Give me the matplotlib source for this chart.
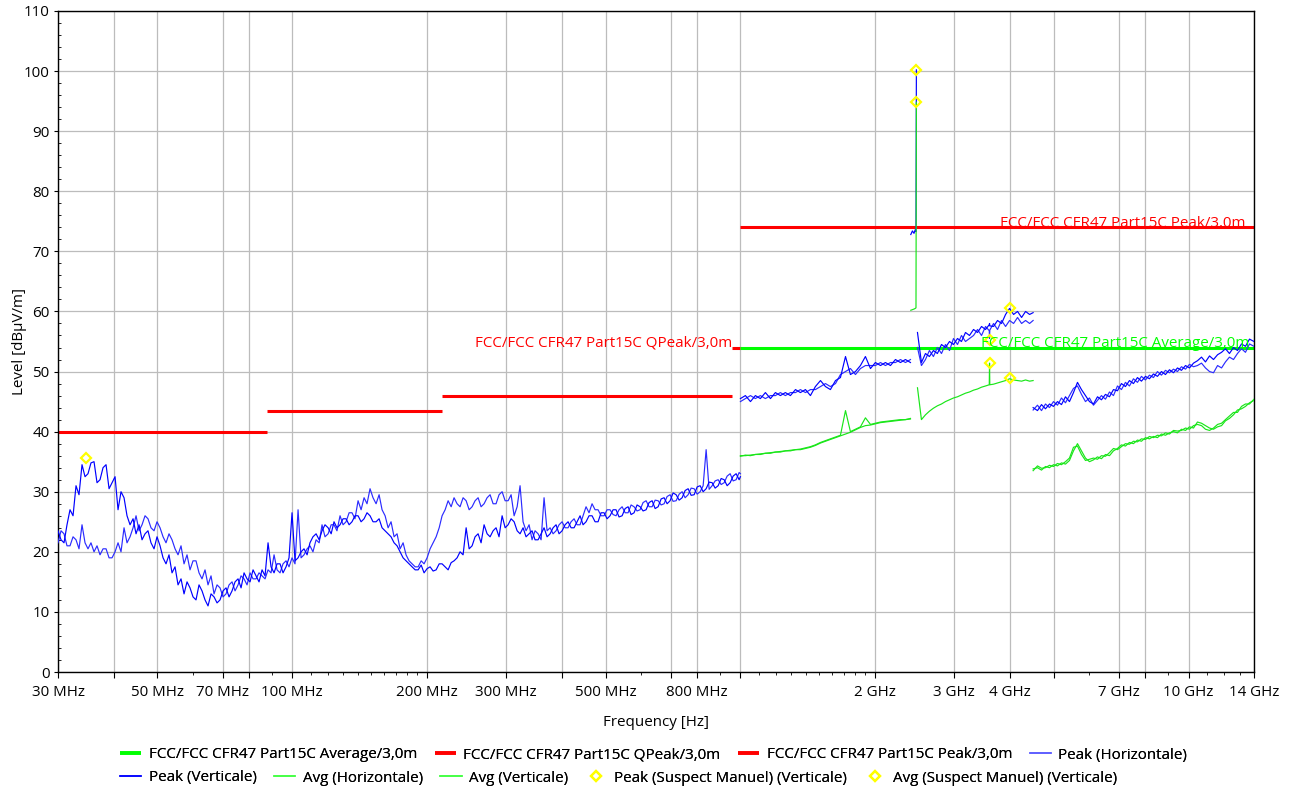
import matplotlib
matplotlib.use("Agg")
import matplotlib.pyplot as plt
from matplotlib.lines import Line2D
from matplotlib.ticker import FixedLocator, FixedFormatter, MultipleLocator

plt.rcParams["font.family"] = ["Open Sans", "DejaVu Sans"]
plt.rcParams["font.size"] = 10.9

# ---- sweep 30 MHz - 1 GHz (frequencies in MHz, levels in dBuV/m)
freq_a = [30.0, 30.47, 30.94, 31.42, 31.91, 32.41, 32.91, 33.42, 33.94, 34.47,
          35.0, 35.54, 36.1, 36.66, 37.23, 37.81, 38.4, 39.0, 39.6, 40.22,
          40.84, 41.47, 42.12, 42.77, 43.44, 44.12, 44.8, 45.5, 46.2, 46.92,
          47.64, 48.38, 49.14, 49.9, 50.68, 51.47, 52.26, 53.07, 53.9, 54.74,
          55.59, 56.45, 57.33, 58.22, 59.12, 60.04, 60.97, 61.92, 62.88, 63.86,
          64.85, 65.86, 66.89, 67.93, 68.98, 70.05, 71.14, 72.25, 73.37, 74.51,
          75.67, 76.85, 78.04, 79.25, 80.48, 81.73, 83.0, 84.29, 85.6, 86.93,
          88.28, 89.65, 91.05, 92.46, 93.89, 95.35, 96.83, 98.33, 99.86, 101.4,
          103.0, 104.6, 106.2, 107.9, 109.5, 111.2, 113.0, 114.8, 116.5, 118.3,
          120.2, 122.1, 123.9, 125.8, 127.8, 129.8, 131.8, 133.9, 135.9, 138.0,
          140.2, 142.4, 144.6, 146.8, 149.1, 151.4, 153.8, 156.2, 158.6, 161.1,
          163.6, 166.1, 168.7, 171.3, 174.0, 176.7, 179.4, 182.2, 185.1, 188.0,
          190.9, 193.9, 196.8, 199.9, 203.0, 206.2, 209.4, 212.7, 215.9, 219.3,
          222.7, 226.2, 229.6, 233.2, 236.8, 240.5, 244.3, 248.1, 251.9, 255.8,
          259.8, 263.8, 267.9, 272.1, 276.3, 280.6, 284.9, 289.3, 293.9, 298.5,
          303.1, 307.8, 312.6, 317.5, 322.3, 327.3, 332.4, 337.6, 342.8, 348.1,
          353.6, 359.1, 364.6, 370.3, 376.1, 381.9, 387.8, 393.8, 400.0, 406.2,
          412.5, 418.9, 425.4, 432.0, 438.7, 445.5, 452.4, 459.4, 466.6, 473.9,
          481.2, 488.7, 496.3, 504.0, 511.8, 519.8, 527.8, 536.0, 544.5, 553.0,
          561.5, 570.2, 579.0, 588.0, 597.2, 606.5, 615.9, 625.5, 635.3, 645.2,
          655.2, 665.4, 675.6, 686.1, 696.8, 707.6, 718.7, 729.9, 741.2, 752.7,
          764.4, 776.3, 788.4, 800.7, 813.1, 825.7, 838.5, 851.5, 864.8, 878.2,
          891.9, 905.8, 919.8, 934.1, 948.6, 963.3, 978.2, 993.4, 1000.0]
peak_v_a = [23.5, 22.0, 21.5, 24.5, 27.0, 26.0, 31.0, 29.5, 34.5, 32.5,
            33.0, 34.8, 35.0, 31.5, 32.0, 34.0, 34.5, 30.5, 31.5, 32.5,
            27.0, 30.0, 29.0, 26.0, 24.5, 25.5, 23.0, 24.5, 22.0, 23.0,
            23.5, 21.5, 20.5, 22.5, 21.0, 19.0, 18.0, 19.5, 16.5, 17.5,
            14.5, 15.5, 13.0, 15.0, 14.0, 12.5, 12.0, 14.5, 13.5, 12.0,
            11.0, 13.0, 12.5, 11.5, 12.0, 13.5, 14.0, 12.5, 13.5, 15.0,
            15.5, 14.0, 16.5, 15.5, 15.0, 17.0, 16.0, 15.0, 17.0, 16.0,
            21.5, 17.5, 16.5, 18.0, 18.0, 16.5, 17.5, 19.0, 26.5, 18.5,
            19.0, 20.0, 20.5, 19.5, 21.5, 22.5, 23.0, 22.0, 23.5, 24.5,
            24.0, 23.0, 25.0, 24.0, 24.5, 25.5, 25.5, 24.5, 25.0, 26.0,
            26.0, 25.0, 25.5, 26.5, 26.0, 25.0, 25.0, 25.5, 24.0, 23.5,
            23.0, 22.5, 21.5, 21.0, 20.0, 19.0, 18.5, 18.0, 17.5, 17.0,
            17.0, 17.8, 16.5, 17.2, 17.5, 16.8, 17.0, 18.0, 18.0, 17.5,
            17.0, 18.2, 18.5, 19.0, 20.0, 19.5, 24.0, 20.5, 21.0, 22.5,
            23.0, 21.5, 24.5, 23.0, 22.5, 23.5, 24.0, 22.5, 26.0, 24.0,
            24.5, 25.5, 25.0, 23.5, 23.0, 24.0, 22.5, 23.0, 23.5, 22.0,
            22.0, 23.0, 24.0, 22.5, 23.0, 24.0, 24.5, 23.0, 23.5, 24.5,
            25.0, 24.0, 24.0, 25.0, 26.0, 24.5, 25.0, 26.0, 26.0, 25.0,
            25.0, 26.5, 26.5, 25.5, 26.0, 27.0, 27.0, 25.8, 26.0, 27.2,
            27.5, 26.2, 26.5, 27.8, 27.5, 26.8, 27.0, 28.2, 28.5, 27.2,
            27.5, 28.8, 29.0, 28.0, 28.5, 29.8, 29.5, 28.6, 29.0, 30.2,
            30.5, 29.4, 29.5, 30.8, 31.0, 30.0, 30.5, 31.6, 31.5, 30.6,
            31.0, 32.2, 32.0, 31.0, 31.5, 32.6, 33.0, 32.0, 32.5]
peak_h_a = [21.5, 23.5, 23.0, 21.0, 21.0, 22.5, 22.0, 20.5, 24.5, 21.5,
            20.5, 21.5, 20.0, 21.0, 19.5, 20.5, 20.5, 19.0, 19.0, 20.0,
            21.5, 20.0, 24.0, 21.5, 22.5, 24.0, 26.0, 23.5, 24.5, 26.0,
            25.5, 24.0, 23.5, 25.0, 24.0, 22.5, 21.5, 23.0, 22.0, 20.5,
            19.5, 21.0, 18.0, 19.5, 17.0, 18.5, 18.5, 16.5, 15.5, 17.0,
            14.5, 16.0, 13.0, 14.5, 14.0, 12.5, 13.0, 14.5, 15.0, 13.5,
            14.5, 16.0, 15.5, 14.5, 16.5, 15.5, 15.5, 16.5, 16.0, 15.5,
            17.0, 16.5, 19.5, 17.0, 16.5, 18.0, 18.5, 17.5, 19.0, 18.0,
            27.0, 19.0, 19.5, 20.5, 21.0, 20.0, 22.0, 21.5, 24.5, 22.5,
            23.0, 24.5, 24.5, 23.5, 26.0, 24.5, 25.0, 26.5, 26.5, 25.5,
            28.5, 27.0, 29.0, 28.0, 30.5, 29.0, 28.0, 29.5, 27.0, 26.0,
            24.0, 25.0, 22.5, 23.0, 20.5, 21.5, 19.5, 18.5, 18.0, 17.5,
            17.5, 18.5, 18.0, 19.0, 20.5, 21.5, 22.5, 24.0, 26.0, 27.0,
            28.5, 27.5, 29.0, 28.0, 27.5, 29.0, 28.5, 27.0, 27.5, 28.5,
            29.0, 27.5, 28.0, 29.0, 29.5, 28.0, 28.0, 29.5, 30.0, 28.5,
            28.5, 29.5, 26.0, 27.5, 31.0, 25.0, 23.5, 24.5, 22.0, 23.5,
            23.0, 22.0, 29.0, 23.5, 24.0, 23.0, 23.5, 24.5, 25.0, 24.0,
            24.0, 25.0, 25.5, 24.5, 24.5, 26.0, 27.5, 26.5, 28.0, 27.0,
            27.0, 26.0, 26.0, 27.0, 27.0, 26.2, 26.0, 27.0, 27.5, 26.5,
            26.5, 27.8, 27.5, 26.8, 27.0, 28.2, 28.5, 27.5, 27.5, 28.6,
            28.5, 27.8, 28.0, 29.2, 29.5, 28.4, 28.5, 29.6, 30.0, 29.0,
            29.5, 30.6, 30.5, 29.6, 30.0, 31.0, 37.0, 30.4, 31.0, 31.8,
            32.0, 31.2, 31.5, 32.6, 33.0, 31.8, 32.0, 33.2, 33.0]

# ---- sweep 1 GHz - 2.4 GHz
freq_b = [1000, 1026, 1053, 1080, 1108, 1137, 1167, 1197, 1228, 1260,
          1293, 1327, 1361, 1397, 1433, 1470, 1509, 1548, 1588, 1630,
          1672, 1716, 1760, 1806, 1853, 1901, 1951, 2001, 2054, 2107,
          2162, 2218, 2276, 2335, 2396]
peak_v_b = [45.5, 46.0, 45.0, 46.0, 45.5, 46.5, 45.5, 46.5, 46.0, 46.5,
            46.0, 47.0, 46.5, 47.0, 46.0, 47.5, 48.5, 47.5, 47.0, 48.5,
            49.0, 52.5, 49.5, 50.0, 51.0, 52.5, 50.5, 51.5, 51.0, 51.5,
            51.0, 52.0, 51.5, 52.0, 51.5]
peak_h_b = [45.0, 45.5, 46.0, 45.5, 46.0, 45.5, 46.0, 46.0, 46.5, 46.0,
            46.5, 46.5, 47.0, 46.5, 47.0, 47.0, 47.5, 48.0, 47.5, 48.0,
            49.5, 50.0, 50.5, 49.5, 50.5, 51.0, 51.0, 51.0, 51.5, 51.0,
            51.5, 51.5, 52.0, 51.5, 52.0]
avg_v_b = [36.0, 36.0, 36.1, 36.2, 36.3, 36.4, 36.5, 36.6, 36.7, 36.8,
           36.9, 37.0, 37.1, 37.3, 37.5, 37.8, 38.2, 38.5, 38.8, 39.1,
           39.4, 43.5, 40.0, 40.4, 40.8, 42.3, 41.2, 41.4, 41.6, 41.7,
           41.8, 41.9, 42.0, 42.0, 42.2]
avg_h_b = [35.9, 36.1, 36.0, 36.2, 36.2, 36.4, 36.4, 36.6, 36.6, 36.8,
           36.8, 37.0, 37.0, 37.2, 37.4, 37.7, 38.1, 38.4, 38.7, 39.0,
           39.3, 39.6, 39.9, 40.3, 40.7, 41.0, 41.1, 41.3, 41.5, 41.6,
           41.7, 41.8, 41.9, 42.0, 42.1]

# ---- 2.4 GHz band
freq_c = [2400, 2420, 2440, 2455, 2465, 2470]
peak_v_c = [72.8, 73.4, 73.0, 73.6, 73.3, 100.2]
avg_v_c = [60.2, 60.3, 60.4, 60.5, 60.6, 94.8]

# ---- 2.4835 GHz - 4.5 GHz
freq_d = [2484, 2535, 2588, 2641, 2696, 2752, 2810, 2868, 2928, 2989,
          3051, 3114, 3179, 3245, 3313, 3382, 3452, 3524, 3592, 3597,
          3602, 3672, 3748, 3826, 3906, 3987, 4070, 4154, 4241, 4329,
          4419, 4500]
peak_v_d = [56.5, 51.5, 53.0, 52.5, 53.5, 53.0, 54.5, 54.0, 55.0, 54.5,
            55.5, 55.0, 56.5, 56.0, 57.0, 56.5, 57.5, 57.0, 57.8, 58.0,
            57.6, 57.5, 58.5, 58.0, 59.5, 60.5, 59.5, 60.0, 59.0, 60.0,
            59.5, 59.8]
peak_h_d = [54.0, 51.0, 52.0, 53.5, 52.5, 54.0, 53.0, 54.5, 53.5, 55.5,
            54.5, 56.0, 55.0, 55.5, 56.0, 57.0, 56.0, 57.5, 56.8, 55.5,
            56.9, 58.0, 57.0, 58.5, 57.5, 58.5, 58.0, 59.0, 58.0, 58.5,
            58.0, 58.5]
avg_v_d = [47.3, 42.0, 42.8, 43.4, 43.9, 44.3, 44.6, 45.0, 45.3, 45.6,
           45.8, 46.1, 46.4, 46.6, 46.9, 47.1, 47.4, 47.6, 47.8, 51.4,
           47.8, 47.9, 48.1, 48.3, 48.5, 48.8, 48.6, 48.5, 48.4, 48.6,
           48.4, 48.5]

# ---- 4.5 GHz - 14 GHz
freq_e = [4500, 4602, 4698, 4795, 4895, 4996, 5100, 5206, 5314, 5424,
          5537, 5652, 5769, 5889, 6011, 6136, 6264, 6393, 6526, 6662,
          6800, 6941, 7085, 7232, 7382, 7536, 7692, 7852, 8015, 8181,
          8351, 8525, 8702, 8883, 9067, 9256, 9448, 9644, 9847, 10050,
          10260, 10470, 10690, 10910, 11140, 11370, 11610, 11850, 12090, 12340,
          12600, 12860, 13130, 13400, 13680, 14000]
peak_v_e = [44.0, 43.5, 44.5, 43.8, 44.6, 44.2, 45.0, 44.5, 45.8, 45.0,
            46.5, 48.2, 47.0, 46.0, 45.0, 44.6, 45.8, 45.3, 46.2, 45.8,
            47.0, 46.8, 48.0, 47.5, 48.5, 48.0, 49.0, 48.4, 49.2, 48.8,
            49.6, 49.2, 50.0, 49.5, 50.3, 49.8, 50.6, 50.2, 51.0, 50.6,
            51.4, 51.8, 52.4, 51.6, 52.6, 52.0, 52.8, 53.2, 53.8, 53.0,
            54.0, 53.5, 54.6, 54.2, 55.4, 55.0]
peak_h_e = [43.6, 44.4, 43.5, 44.6, 44.0, 45.0, 44.4, 45.6, 44.8, 46.0,
            47.2, 47.6, 46.2, 45.0, 45.6, 44.4, 45.2, 46.0, 45.4, 46.6,
            46.0, 47.6, 47.0, 48.2, 47.6, 48.8, 48.2, 49.2, 48.6, 49.4,
            49.0, 50.0, 49.4, 50.2, 49.8, 50.4, 50.0, 50.8, 50.4, 51.2,
            50.8, 51.0, 51.4, 50.6, 50.0, 49.8, 51.0, 50.6, 51.6, 52.4,
            52.0, 53.0, 53.8, 53.2, 54.6, 54.2]
avg_v_e = [33.8, 34.0, 33.6, 34.2, 34.0, 34.5, 34.3, 34.8, 34.6, 35.2,
           36.8, 38.0, 36.8, 35.6, 35.0, 35.3, 35.8, 35.5, 36.2, 36.0,
           36.8, 37.2, 37.8, 37.6, 38.2, 38.0, 38.6, 38.4, 39.0, 38.8,
           39.2, 39.0, 39.6, 39.4, 39.8, 40.0, 39.8, 40.4, 40.2, 40.8,
           40.6, 41.6, 41.4, 41.0, 40.6, 40.4, 40.8, 41.0, 41.8, 42.2,
           42.8, 43.6, 43.8, 44.2, 44.8, 45.2]
avg_h_e = [33.5, 34.3, 33.9, 34.0, 34.4, 34.2, 34.7, 34.5, 35.0, 35.6,
           37.4, 37.6, 36.2, 35.2, 35.4, 35.6, 35.4, 36.0, 35.9, 36.5,
           37.2, 37.0, 37.5, 38.0, 37.9, 38.4, 38.3, 38.8, 38.7, 39.2,
           39.0, 39.4, 39.3, 39.8, 39.6, 40.2, 40.1, 40.2, 40.6, 40.4,
           41.0, 41.2, 41.0, 40.4, 40.2, 40.6, 41.2, 41.4, 42.0, 42.6,
           43.2, 43.2, 44.2, 44.6, 44.6, 45.4]

# ---- suspects (manual)
peak_susp_freq = [34.6, 2470, 3597, 4000]
peak_susp_level = [35.6, 100.2, 55.3, 60.6]
avg_susp_freq = [2470, 3597, 4000]
avg_susp_level = [94.8, 51.4, 48.9]

# ---- limit lines: (start MHz, stop MHz, level)
qpeak_limit = [(30, 88, 40.0), (88, 216, 43.5), (216, 960, 46.0), (960, 1000, 54.0)]
avg_limit = [(1000, 14000, 54.0)]
peak_limit = [(1000, 14000, 74.0)]

AVG_LABEL = "FCC/FCC CFR47 Part15C Average/3,0m"
QPEAK_LABEL = "FCC/FCC CFR47 Part15C QPeak/3,0m"
PEAK_LABEL = "FCC/FCC CFR47 Part15C Peak/3,0m"

major_ticks = [30, 40, 50, 70, 80, 100, 200, 300, 400, 500, 700, 800, 1000,
               2000, 3000, 4000, 5000, 7000, 8000, 10000, 14000]
major_labels = ["30 MHz", "", "50 MHz", "70 MHz", "", "100 MHz", "200 MHz", "300 MHz",
                "", "500 MHz", "", "800 MHz", "", "2 GHz", "3 GHz", "4 GHz", "",
                "7 GHz", "", "10 GHz", "14 GHz"]
minor_ticks = [60, 90, 110, 120, 130, 140, 150, 160, 170, 180, 190, 600, 900,
               1100, 1200, 1300, 1400, 1500, 1600, 1700, 1800, 1900,
               6000, 9000, 11000, 12000, 13000]

RED = "#ff0000"
GREEN = "#00ff00"
AVG_GREEN = "#19e619"
BLUE = "#0000ff"
BLUE_H = "#2b2bff"
YELLOW = "#ffff00"


def draw_limits(ax):
    for segs, color in ((qpeak_limit, RED), (avg_limit, GREEN), (peak_limit, RED)):
        for f0, f1, lvl in segs:
            ax.plot([f0, f1], [lvl, lvl], color=color, lw=2.2,
                    solid_capstyle="butt", zorder=2)
    ax.text(960, 54.7, QPEAK_LABEL, color=RED, ha="right", va="center", zorder=6)
    ax.text(13400, 74.7, PEAK_LABEL, color=RED, ha="right", va="center", zorder=6)
    ax.text(13700, 54.7, AVG_LABEL, color=GREEN, ha="right", va="center", zorder=6)


def draw_traces(ax):
    lw = 0.85
    ax.plot(freq_a, peak_h_a, color=BLUE_H, lw=lw, zorder=3)
    ax.plot(freq_a, peak_v_a, color=BLUE, lw=lw, zorder=3)
    ax.plot(freq_b, peak_h_b, color=BLUE_H, lw=lw, zorder=3)
    ax.plot(freq_b, peak_v_b, color=BLUE, lw=lw, zorder=3)
    ax.plot(freq_c, peak_v_c, color=BLUE, lw=lw, zorder=3)
    ax.plot(freq_d, peak_h_d, color=BLUE_H, lw=lw, zorder=3)
    ax.plot(freq_d, peak_v_d, color=BLUE, lw=lw, zorder=3)
    ax.plot(freq_e, peak_h_e, color=BLUE_H, lw=lw, zorder=3)
    ax.plot(freq_e, peak_v_e, color=BLUE, lw=lw, zorder=3)

    ax.plot(freq_b, avg_h_b, color=AVG_GREEN, lw=lw, zorder=4)
    ax.plot(freq_b, avg_v_b, color=AVG_GREEN, lw=lw, zorder=4)
    ax.plot(freq_c, avg_v_c, color=AVG_GREEN, lw=lw, zorder=4)
    ax.plot(freq_d, avg_v_d, color=AVG_GREEN, lw=lw, zorder=4)
    ax.plot(freq_e, avg_h_e, color=AVG_GREEN, lw=lw, zorder=4)
    ax.plot(freq_e, avg_v_e, color=AVG_GREEN, lw=lw, zorder=4)

    mk = dict(marker="D", ms=5.5, mfc="none", mec=YELLOW, mew=1.6, ls="none", zorder=5)
    ax.plot(peak_susp_freq, peak_susp_level, **mk)
    ax.plot(avg_susp_freq, avg_susp_level, **mk)


def style_axes(ax):
    ax.set_xscale("log")
    ax.set_xlim(30, 14000)
    ax.set_ylim(0, 110)
    ax.xaxis.set_major_locator(FixedLocator(major_ticks))
    ax.xaxis.set_major_formatter(FixedFormatter(major_labels))
    ax.xaxis.set_minor_locator(FixedLocator(minor_ticks))
    ax.xaxis.set_minor_formatter(FixedFormatter([""] * len(minor_ticks)))
    ax.yaxis.set_major_locator(MultipleLocator(10))
    ax.yaxis.set_minor_locator(MultipleLocator(2))
    ax.tick_params(axis="x", which="major", direction="out", length=4, width=0.8, pad=5)
    ax.tick_params(axis="x", which="minor", direction="out", length=2.5, width=0.6)
    ax.tick_params(axis="y", which="major", direction="out", length=3, width=0.8, pad=3)
    ax.tick_params(axis="y", which="minor", direction="in", length=2.5, width=0.6)
    ax.grid(True, which="major", color="#bcbcbc", lw=0.9)
    for sp in ax.spines.values():
        sp.set_color("black")
        sp.set_linewidth(1.0)
    ax.set_axisbelow(True)
    ax.set_xlabel("Frequency [Hz]", labelpad=11)
    ax.set_ylabel("Level [dBµV/m]", labelpad=-2)


def draw_legend(fig):
    thick = dict(lw=2.6, solid_capstyle="butt")
    row1 = [
        (Line2D([], [], color=GREEN, **thick), AVG_LABEL),
        (Line2D([], [], color=RED, **thick), QPEAK_LABEL),
        (Line2D([], [], color=RED, **thick), PEAK_LABEL),
        (Line2D([], [], color="#5a5aff", lw=1.1), "Peak (Horizontale)"),
    ]
    row2 = [
        (Line2D([], [], color=BLUE, lw=1.1), "Peak (Verticale)"),
        (Line2D([], [], color="#40ff40", lw=1.1), "Avg (Horizontale)"),
        (Line2D([], [], color="#40ff40", lw=1.1), "Avg (Verticale)"),
        (Line2D([], [], marker="D", ms=5.5, mfc="none", mec=YELLOW, mew=1.6, ls="none"),
         "Peak (Suspect Manuel) (Verticale)"),
        (Line2D([], [], marker="D", ms=5.5, mfc="none", mec=YELLOW, mew=1.6, ls="none"),
         "Avg (Suspect Manuel) (Verticale)"),
    ]
    for rows, yc in ((row1, 1 - 755 / 790), (row2, 1 - 778 / 790)):
        leg = fig.legend([h for h, _ in rows], [t for _, t in rows], ncol=len(rows),
                         loc="center left", bbox_to_anchor=(120 / 1290, yc),
                         frameon=False, borderpad=0, borderaxespad=0,
                         handlelength=1.4, handletextpad=0.5, columnspacing=1.15)
        fig.add_artist(leg)


fig = plt.figure(figsize=(12.9, 7.9), dpi=100)
ax = fig.add_axes([58 / 1290, 1 - 672 / 790, (1254 - 58) / 1290, (672 - 11) / 790])
style_axes(ax)
draw_limits(ax)
draw_traces(ax)
draw_legend(fig)
fig.savefig("out.png", dpi=100)
